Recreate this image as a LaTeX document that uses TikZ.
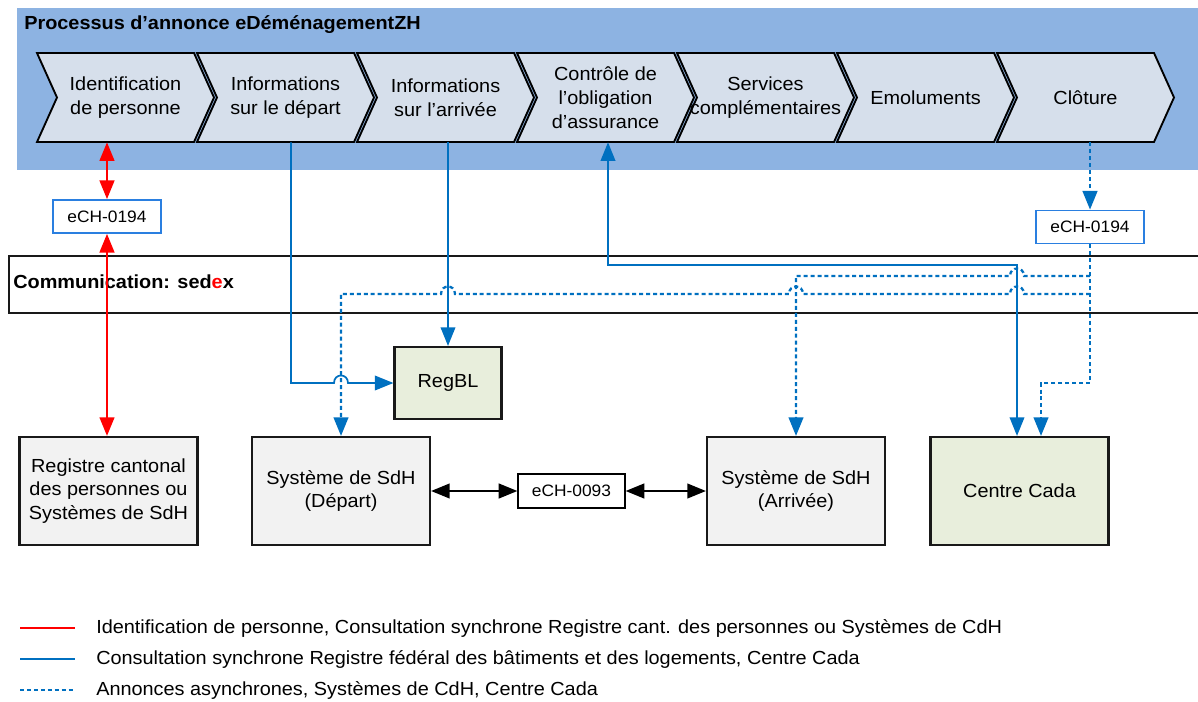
\documentclass[tikz,border=0pt]{standalone}
\usepackage{fontspec}
\setmainfont{Liberation Sans}[FakeStretch=1.05]
\usetikzlibrary{arrows.meta}
\definecolor{band}{HTML}{8DB3E2}
\definecolor{chevfill}{HTML}{D6DFEB}
\definecolor{lblue}{HTML}{0070C0}
\definecolor{eblue}{HTML}{2A7FE0}
\definecolor{boxgray}{HTML}{F2F2F2}
\definecolor{boxgreen}{HTML}{E8EEDC}
\definecolor{ered}{HTML}{FF0000}
\begin{document}
\begin{tikzpicture}[x=0.75pt,y=-0.75pt,
  every node/.style={font=\fontsize{14.2}{17.8}\selectfont, inner sep=0pt},
  chev/.style={draw=black, fill=chevfill, line width=1.4pt},
  chevtext/.style={minimum width=132.75pt, minimum height=66.75pt, align=center},
  sysbox/.style={draw=black!90, line width=1.6pt, fill=boxgray, minimum width=133.5pt, minimum height=81pt, align=center},
  greenbox/.style={sysbox, fill=boxgreen},
  echbox/.style={draw=eblue, line width=1.3pt, fill=white, minimum width=81pt, minimum height=24.75pt, font=\fontsize{12.4}{14}\selectfont},
  redl/.style={draw=ered, line width=1.8pt, {Triangle[length=14pt, width=11pt]}-{Triangle[length=14pt, width=11pt]}},
  bluel/.style={draw=lblue, line width=1.3pt},
  dotl/.style={draw=lblue, line width=1.7pt, dash pattern=on 3pt off 2.2pt},
  blkl/.style={draw=black, line width=1.6pt, {Triangle[length=14pt, width=11pt]}-{Triangle[length=14pt, width=11pt]}}
]
\useasboundingbox (0,0) rectangle (1198,702);
% process band
\fill[band] (17,8) rectangle (1198,170);
\node[anchor=west, font=\bfseries\fontsize{14.2}{17}\selectfont] (title) at (24,25) {Processus d’annonce eDéménagementZH};
\foreach \i/\t in {1/{Identification\\de personne}, 2/{Informations\\sur le départ}, 3/{Informations\\sur l’arrivée}, 4/{Contrôle de\\l’obligation\\d’assurance}, 5/{Services\\complémentaires}, 6/{Emoluments}, 7/{Clôture}} {
  \pgfmathsetmacro\L{37+160*(\i-1)}
  \draw[chev] (\L,53) -- ++(157,0) -- ++(20,44.5) -- ++(-20,44.5) -- ++(-157,0) -- ++(20,-44.5) -- cycle;
  \node[chevtext] (c\i) at (\L+88.5,97.5) {\t};
}
% sedex band
\node[draw=black!90, line width=1.8pt, fill=white, minimum width=895pt, minimum height=42.75pt, anchor=north west] (sedex) at (8,255) {};
\node[anchor=west, font=\bfseries\fontsize{14.2}{17}\selectfont] (sedextxt) at (13,282) {Communication: sed{\color{ered}e}x};
% boxes
\node[echbox] (eL) at (107,216.5) {eCH-0194};
\node[echbox] (eR) at (1090,227) {eCH-0194};
\node[greenbox, minimum width=80.25pt, minimum height=54pt] (regbl) at (448,383) {RegBL};
\node[sysbox] (regc) at (108.5,491) {Registre cantonal\\des personnes ou\\Systèmes de SdH};
\node[sysbox] (dep) at (341,491) {Système de SdH\\(Départ)};
\node[draw=black, line width=0.9pt, fill=white, minimum width=80.25pt, minimum height=25.5pt, font=\fontsize{12.4}{14}\selectfont] (e93) at (571.5,491) {eCH-0093};
\node[sysbox] (arr) at (796,491) {Système de SdH\\(Arrivée)};
\node[greenbox] (cada) at (1019.5,491) {Centre Cada};
% red connectors
\draw[redl] (eL.north |- c1.south) -- (eL.north);
\draw[redl] (eL.south) -- (eL.south |- regc.north);
% blue solid connectors
\draw[bluel, -{Triangle[length=14pt, width=11pt]}] (291,0 |- c2.south) -- (291,383) -- (334,383)
  .. controls (334,373) and (348,373) .. (348,383) -- (regbl.west);
\draw[bluel, -{Triangle[length=14pt, width=11pt]}] (regbl.north |- c3.south) -- (regbl.north);
\draw[bluel, {Triangle[length=14pt, width=11pt]}-{Triangle[length=14pt, width=11pt]}] (1017,0 |- cada.north) -- (1017,265) -- (608,265) -- (608,0 |- c4.south);
% dotted connectors
\draw[dotl, -{Triangle[length=14pt, width=11pt]}] (eR.north |- c7.south) -- (eR.north);
\draw[dotl, -{Triangle[length=14pt, width=11pt]}] (eR.south) -- (eR.south |- 0,383) -- (1041,383) -- (1041,0 |- cada.north);
\draw[dotl, -{Triangle[length=14pt, width=11pt]}] (eR.south |- 0,276) -- (1024,276)
  .. controls (1024,266) and (1010,266) .. (1010,276) -- (arr.north |- 0,276) -- (arr.north);
\draw[dotl, -{Triangle[length=14pt, width=11pt]}] (eR.south |- 0,294) -- (1024,294)
  .. controls (1024,284) and (1010,284) .. (1010,294) -- (803,294)
  .. controls (803,284) and (789,284) .. (789,294) -- (455,294)
  .. controls (455,284) and (441,284) .. (441,294) -- (dep.north |- 0,294) -- (dep.north);
% black connectors
\draw[blkl] (dep.east) -- (e93.west);
\draw[blkl] (e93.east) -- (arr.west);
% legend
\node[anchor=west] (l1) at (96,628) {Identification de personne, Consultation synchrone Registre cant. des personnes ou Systèmes de CdH};
\node[anchor=west] (l2) at (96,659) {Consultation synchrone Registre fédéral des bâtiments et des logements, Centre Cada};
\node[anchor=west] (l3) at (96,690) {Annonces asynchrones, Systèmes de CdH, Centre Cada};
\coordinate (s1) at (20,628); \coordinate (s2) at (20,659); \coordinate (s3) at (20,690);
\draw[draw=ered, line width=1.8pt] (s1) -- ++(55,0);
\draw[bluel] (s2) -- ++(55,0);
\draw[dotl] (s3) -- ++(55,0);
\end{tikzpicture}
\end{document}
